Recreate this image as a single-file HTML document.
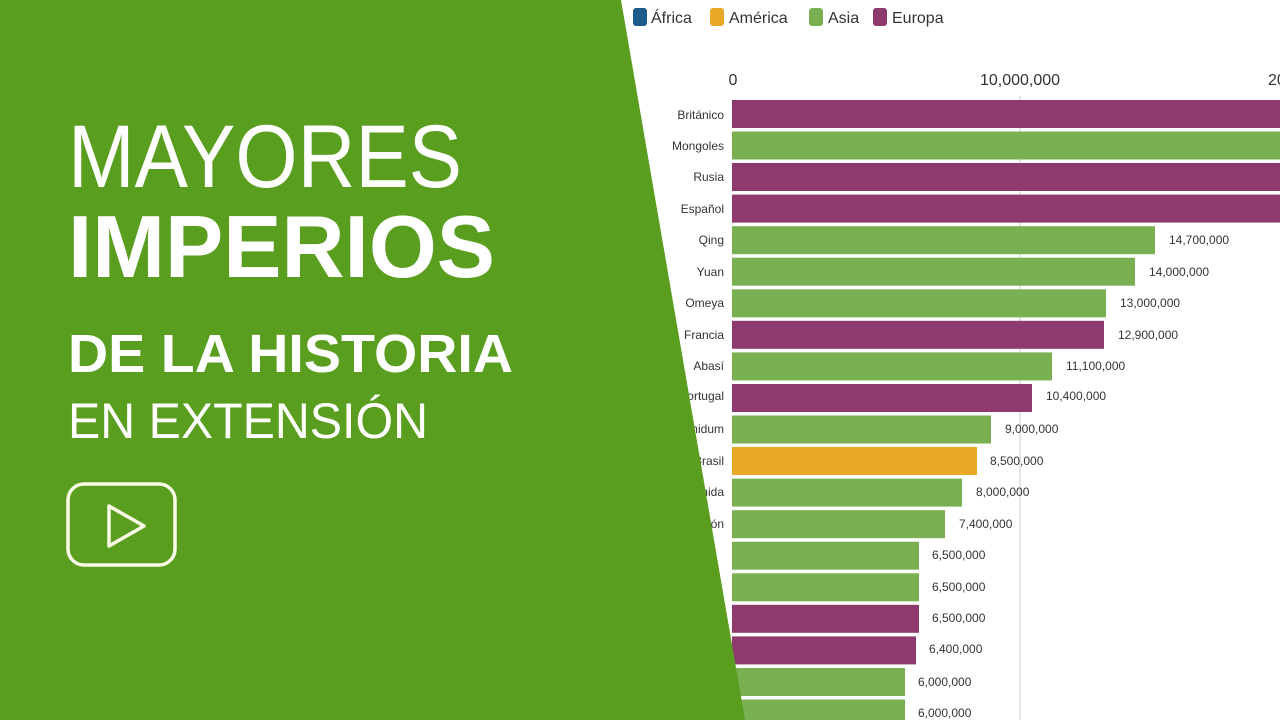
<!DOCTYPE html>
<html><head><meta charset="utf-8"><style>
html,body{margin:0;padding:0;background:#fff;width:1280px;height:720px;overflow:hidden}
svg{display:block}
</style></head><body>
<svg width="1280" height="720" viewBox="0 0 1280 720" xmlns="http://www.w3.org/2000/svg" font-family="Liberation Sans, sans-serif">
<rect width="1280" height="720" fill="#fff"/>
<!-- legend -->
<g font-size="16" fill="#333">
<rect x="633" y="8" width="14" height="18" rx="3" fill="#1f5a8c"/><text x="651" y="23">África</text>
<rect x="710" y="8" width="14" height="18" rx="3" fill="#e9a826"/><text x="729" y="23">América</text>
<rect x="809" y="8" width="14" height="18" rx="3" fill="#78b052"/><text x="828" y="23">Asia</text>
<rect x="873" y="8" width="14" height="18" rx="3" fill="#8e3a6e"/><text x="892" y="23">Europa</text>
</g>
<!-- axis -->
<g font-size="16" fill="#333" text-anchor="middle">
<text x="733" y="85">0</text>
<text x="1020" y="85">10,000,000</text>
<text x="1308" y="85">20,000,000</text>
</g>
<line x1="1020" y1="96" x2="1020" y2="720" stroke="#ddd" stroke-width="1.5"/>
<g id="bars">
<rect x="732" y="100" width="560" height="28" fill="#8e3a6e"/>
<rect x="732" y="131.5" width="560" height="28" fill="#78b052"/>
<rect x="732" y="163" width="560" height="28" fill="#8e3a6e"/>
<rect x="732" y="194.6" width="560" height="28" fill="#8e3a6e"/>
<rect x="732" y="226.2" width="423" height="28" fill="#78b052"/>
<rect x="732" y="257.7" width="403" height="28" fill="#78b052"/>
<rect x="732" y="289.3" width="374" height="28" fill="#78b052"/>
<rect x="732" y="320.8" width="372" height="28" fill="#8e3a6e"/>
<rect x="732" y="352.4" width="320" height="28" fill="#78b052"/>
<rect x="732" y="384" width="300" height="28" fill="#8e3a6e"/>
<rect x="732" y="415.5" width="259" height="28" fill="#78b052"/>
<rect x="732" y="447" width="245" height="28" fill="#e9a826"/>
<rect x="732" y="478.6" width="230" height="28" fill="#78b052"/>
<rect x="732" y="510.2" width="213" height="28" fill="#78b052"/>
<rect x="732" y="541.7" width="187" height="28" fill="#78b052"/>
<rect x="732" y="573.3" width="187" height="28" fill="#78b052"/>
<rect x="732" y="604.8" width="187" height="28" fill="#8e3a6e"/>
<rect x="732" y="636.4" width="184" height="28" fill="#8e3a6e"/>
<rect x="732" y="668" width="173" height="28" fill="#78b052"/>
<rect x="732" y="699.5" width="173" height="28" fill="#78b052"/>
</g>
<g font-size="12" fill="#333">
<text x="1169" y="244">14,700,000</text>
<text x="1149" y="276">14,000,000</text>
<text x="1120" y="307">13,000,000</text>
<text x="1118" y="339">12,900,000</text>
<text x="1066" y="370">11,100,000</text>
<text x="1046" y="400">10,400,000</text>
<text x="1005" y="433">9,000,000</text>
<text x="990" y="465">8,500,000</text>
<text x="976" y="496">8,000,000</text>
<text x="959" y="528">7,400,000</text>
<text x="932" y="559">6,500,000</text>
<text x="932" y="591">6,500,000</text>
<text x="932" y="622">6,500,000</text>
<text x="929" y="653">6,400,000</text>
<text x="918" y="686">6,000,000</text>
<text x="918" y="717">6,000,000</text>
</g>
<g font-size="12" fill="#333" text-anchor="end">
<text x="724" y="119">Británico</text>
<text x="724" y="150">Mongoles</text>
<text x="724" y="181">Rusia</text>
<text x="724" y="213">Español</text>
<text x="724" y="244">Qing</text>
<text x="724" y="276">Yuan</text>
<text x="724" y="307">Omeya</text>
<text x="724" y="339">Francia</text>
<text x="724" y="370">Abasí</text>
<text x="724" y="400">Portugal</text>
<text x="724" y="433">Rashidum</text>
<text x="724" y="465">Brasil</text>
<text x="724" y="496">Aqueménida</text>
<text x="724" y="528">Japón</text>
</g>
<!-- green panel -->
<polygon points="0,0 621,0 745,720 0,720" fill="#5a9e1f"/>
<g fill="#fff">
<text x="68" y="187" font-size="89" textLength="394" lengthAdjust="spacingAndGlyphs">MAYORES</text>
<text x="68" y="277" font-size="88" font-weight="bold" textLength="427" lengthAdjust="spacingAndGlyphs">IMPERIOS</text>
<text x="68" y="372" font-size="54" font-weight="bold" textLength="445" lengthAdjust="spacingAndGlyphs">DE LA HISTORIA</text>
<text x="68" y="438" font-size="50" textLength="360" lengthAdjust="spacingAndGlyphs">EN EXTENSIÓN</text>
</g>
<rect x="68" y="484" width="107" height="81" rx="16" fill="none" stroke="#fbfbe8" stroke-width="3.5"/>
<polygon points="109,506 144,526 109,546" fill="none" stroke="#fbfbe8" stroke-width="3.5" stroke-linejoin="round"/>
</svg>
</body></html>
